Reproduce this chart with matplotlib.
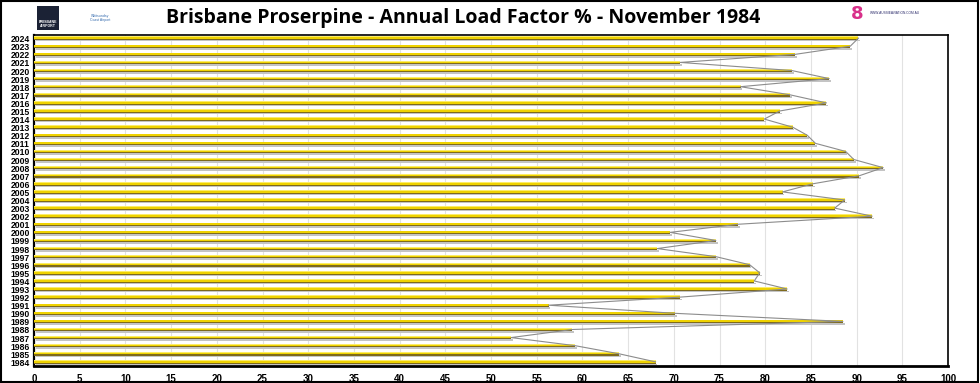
import matplotlib
matplotlib.use("Agg")
import matplotlib.pyplot as plt
from matplotlib.patches import Rectangle
import numpy as np

years = list(range(1984, 2025))
load_factor = [68.0, 64.0, 59.2, 52.2, 58.9, 88.5, 70.1, 56.3, 70.7, 82.4,
               78.8, 79.4, 78.3, 74.6, 68.2, 74.6, 69.6, 77.0, 91.7, 87.6,
               88.7, 81.9, 85.2, 90.3, 92.9, 89.7, 88.8, 85.5, 84.6, 83.0,
               79.9, 81.6, 86.7, 82.7, 77.3, 87.0, 82.9, 70.7, 83.3, 89.3, 90.2]
x_ticks = list(range(0, 101, 5))
title = "Brisbane Proserpine - Annual Load Factor % - November 1984"

fig = plt.figure(figsize=(9.8, 3.83), dpi=100)
fig.patch.set_facecolor("white")
ax = fig.add_axes([34/980, 17/383, 914/980, 331/383])

y = np.arange(len(years))
u = 1 / 8.09  # one pixel in row units
# shadow
ax.barh(y - 2.0*u, load_factor, height=1.6*u, left=0.2, color="#c4c4c4", edgecolor="none", zorder=2)
# dark bottom edge
ax.barh(y - 0.7*u, load_factor, height=1.2*u, color="#7e6a1c", edgecolor="none", zorder=3)
# main yellow body
ax.barh(y + 0.9*u, load_factor, height=2.2*u, color="#efd200", edgecolor="none", zorder=4)
# top highlight
ax.barh(y + 1.8*u, load_factor, height=0.8*u, color="#fbec6a", edgecolor="none", zorder=5)
# connecting line
ax.plot(load_factor, y + 0.5*u, color="#8c8c8c", linewidth=0.8, zorder=6)

ax.set_xlim(0, 100)
ax.set_ylim(-0.45, len(years) - 0.55)
ax.set_xticks(x_ticks)
ax.set_xticklabels([str(t) for t in x_ticks], fontsize=7, fontweight="bold", family="Liberation Sans")
ax.set_yticks(y)
ax.set_yticklabels([str(v) for v in years], fontsize=6.2, fontweight="bold", family="Liberation Sans")
ax.tick_params(axis="both", length=0, pad=3)
ax.tick_params(axis="x", pad=6)
ax.grid(axis="x", color="#e2e2e2", linewidth=0.8, zorder=0)
ax.set_axisbelow(True)
for s in ax.spines.values():
    s.set_color("black")
    s.set_linewidth(1.2)
ax.spines["bottom"].set_linewidth(2.0)
ax.spines["left"].set_linewidth(1.6)

fig.text(463/980, 0.953, title, ha="center", va="center", fontsize=14, fontweight="bold",
         family="Open Sans")

# logo approximations
fig.patches.append(Rectangle((37/980, 1 - 30/383), 22/980, 24/383, transform=fig.transFigure,
                             facecolor="#1b2235", edgecolor="none"))
fig.text(48/980, 1 - 24/383, "BRISBANE\nAIRPORT", ha="center", va="center", fontsize=2.5,
         color="white", fontweight="bold", family="Liberation Sans")
fig.text(100/980, 1 - 18/383, "Whitsunday\nCoast Airport", ha="center", va="center", fontsize=2.5,
         color="#3a6fb0", family="Liberation Sans")
fig.text(857/980, 1 - 14/383, "8", ha="center", va="center", fontsize=13, fontweight="bold",
         color="#d8308a", family="DejaVu Sans")
fig.text(870/980, 1 - 13/383, "WWW.AUSSIEAVIATION.COM.AU", ha="left", va="center", fontsize=2.3,
         color="#2a2a6a", family="Liberation Sans")

# figure border
fig.patches.append(Rectangle((0.001, 0.002), 0.997, 0.995, transform=fig.transFigure,
                             facecolor="none", edgecolor="black", linewidth=1.5))

fig.savefig("out.png", dpi=100)
